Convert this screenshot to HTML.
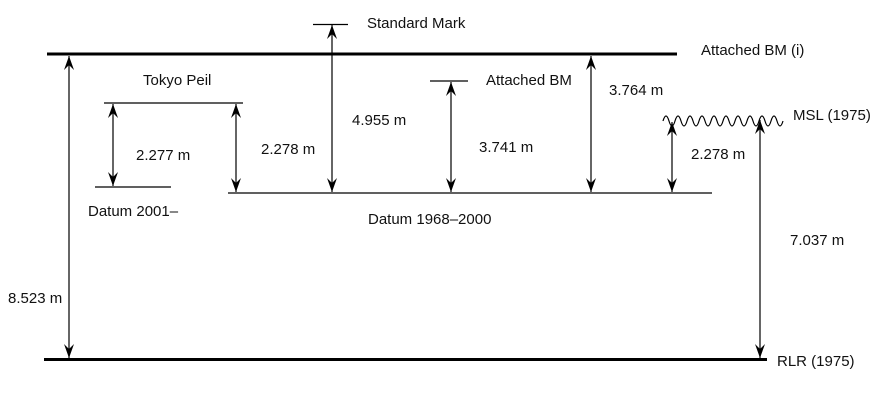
<!DOCTYPE html>
<html><head><meta charset="utf-8"><style>
html,body{margin:0;padding:0;background:#fff;}
svg{display:block;}
text{font-family:"Liberation Sans",Arial,sans-serif;font-size:15px;fill:#111;}
</style></head><body>
<svg width="875" height="400" viewBox="0 0 875 400" xmlns="http://www.w3.org/2000/svg">
<defs>
<path id="up" d="M0,0 L-5,14 L0,9 L5,14 Z" fill="#000"/>
<path id="dn" d="M0,0 L-5,-14 L0,-9 L5,-14 Z" fill="#000"/>
</defs>
<g stroke="#000" fill="none">
<line x1="47" y1="54" x2="677" y2="54" stroke-width="3"/>
<line x1="44" y1="359.5" x2="767" y2="359.5" stroke-width="3"/>
<line x1="228" y1="193" x2="712" y2="193" stroke-width="1.3"/>
<line x1="95" y1="187" x2="171" y2="187" stroke-width="1.3"/>
<line x1="104" y1="103" x2="243" y2="103" stroke-width="1.3"/>
<line x1="313" y1="24.5" x2="348" y2="24.5" stroke-width="1.3"/>
<line x1="430" y1="81" x2="468" y2="81" stroke-width="1.3"/>
<path d="M663,121 q3,-10 6,0 t6,0 t6,0 t6,0 t6,0 t6,0 t6,0 t6,0 t6,0 t6,0 t6,0 t6,0 t6,0 t6,0 t6,0 t6,0 t6,0 t6,0 t6,0 t6,0" stroke-width="1.2"/>
<line x1="69" y1="56" x2="69" y2="358" stroke-width="1.2"/>
<line x1="113" y1="104" x2="113" y2="186" stroke-width="1.2"/>
<line x1="236" y1="104" x2="236" y2="192" stroke-width="1.2"/>
<line x1="332" y1="25" x2="332" y2="192" stroke-width="1.2"/>
<line x1="451" y1="82" x2="451" y2="192" stroke-width="1.2"/>
<line x1="591" y1="56" x2="591" y2="192" stroke-width="1.2"/>
<line x1="672" y1="122" x2="672" y2="192" stroke-width="1.2"/>
<line x1="760" y1="120" x2="760" y2="358" stroke-width="1.2"/>
</g>
<use href="#up" x="69" y="56"/><use href="#dn" x="69" y="358"/>
<use href="#up" x="113" y="104"/><use href="#dn" x="113" y="186"/>
<use href="#up" x="236" y="104"/><use href="#dn" x="236" y="192"/>
<use href="#up" x="332" y="25"/><use href="#dn" x="332" y="192"/>
<use href="#up" x="451" y="82"/><use href="#dn" x="451" y="192"/>
<use href="#up" x="591" y="56"/><use href="#dn" x="591" y="192"/>
<use href="#up" x="672" y="122"/><use href="#dn" x="672" y="192"/>
<use href="#up" x="760" y="120"/><use href="#dn" x="760" y="358"/>
<text x="367" y="28">Standard Mark</text>
<text x="701" y="55">Attached BM (i)</text>
<text x="143" y="85">Tokyo Peil</text>
<text x="486" y="85">Attached BM</text>
<text x="609" y="95">3.764 m</text>
<text x="793" y="120">MSL (1975)</text>
<text x="352" y="125">4.955 m</text>
<text x="136" y="160">2.277 m</text>
<text x="261" y="154">2.278 m</text>
<text x="479" y="152">3.741 m</text>
<text x="691" y="159">2.278 m</text>
<text x="88" y="216">Datum 2001–</text>
<text x="368" y="224">Datum 1968–2000</text>
<text x="790" y="245">7.037 m</text>
<text x="8" y="303">8.523 m</text>
<text x="777" y="366">RLR (1975)</text>
</svg>
</body></html>
